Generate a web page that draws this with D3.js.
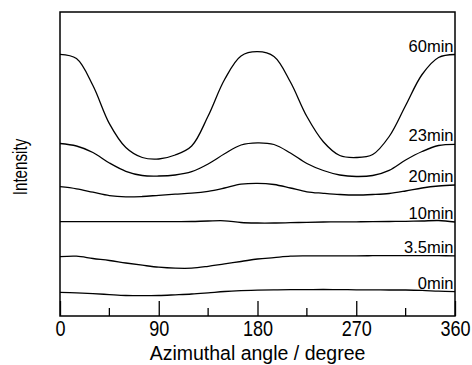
<!DOCTYPE html>
<html>
<head>
<meta charset="utf-8">
<script src="https://cdn.jsdelivr.net/npm/d3@7"></script>
<style>
    body { margin: 0; background: white; }
    svg { display: block; }
</style>
</head>
<body>
<svg id="chart"></svg>
<script>
// azimuthal angle samples (degree)
const angles = [0, 15, 30, 45, 60, 75, 90, 105, 120, 135, 150, 165, 180,
    195, 210, 225, 240, 255, 270, 285, 300, 315, 330, 345, 360];

// intensity profiles, offset per time (arbitrary units)
const int60 = [261.7, 257.5, 230.5, 192.4, 168.5, 158.5, 157, 161, 170, 200, 236.5, 260, 264.3,
    259.5, 234, 199.5, 174.3, 160.5, 158.5, 161.5, 179.5, 210.5, 241.5, 258.5, 261.5];
const int23 = [172.5, 170, 163.5, 153, 144.7, 140.5, 140, 141, 144.3, 152, 162.2, 171, 173.2,
    171.5, 163, 152.5, 145.5, 141, 139.5, 140.5, 145.7, 156, 164.5, 170.5, 171.7];
const int20 = [129.3, 127.2, 123.8, 120.4, 119.1, 119.5, 120.7, 121.8, 122.8, 124.7, 128, 131.8, 132.7,
    131.5, 128, 124.2, 122.7, 121.5, 121, 121.5, 122.5, 125, 128, 130, 131];
const int10 = [94.3, 94.3, 94.3, 94.3, 94.3, 94.3, 94.3, 94.4, 94.5, 95, 95.2, 93.5, 93,
    93, 93.3, 93.7, 94, 94.1, 94.2, 94.3, 94.5, 94.7, 95, 95.5, 94];
const int35 = [59.3, 59.8, 57.5, 55.5, 53, 50.8, 48.8, 47.8, 47.8, 49.7, 52.2, 54.5, 57,
    58.4, 59.8, 60.1, 60.2, 60.2, 60.2, 60.3, 60.4, 60.4, 60.4, 60.3, 60.2];
const int0 = [23.7, 23.1, 22.4, 21.4, 20.5, 20.3, 20.5, 21.2, 22, 23.2, 24.5, 25.3, 25.8,
    26.1, 26.3, 26.4, 26.5, 26.4, 26.2, 26.1, 26, 26, 25.6, 24.8, 24.3];

const seriesNames = ["60min", "23min", "20min", "10min", "3.5min", "0min"];
const seriesValues = [int60, int23, int20, int10, int35, int0];

const xTicks = [0, 90, 180, 270, 360];
const xMinorTicks = [45, 135, 225, 315];

const width = 472;
const height = 365;
const margin = { top: 12, right: 17, bottom: 49, left: 60 };

const svg = d3.select("#chart")
    .attr("width", width)
    .attr("height", height)
    .style("font-family", "'Liberation Sans', Arial, sans-serif");

const xScale = d3.scaleLinear()
    .domain([0, 360])
    .range([margin.left, width - margin.right]);

const yScale = d3.scaleLinear()
    .domain([0, 304])
    .range([height - margin.bottom, margin.top]);

// frame
svg.append("rect")
    .attr("x", xScale(0))
    .attr("y", yScale(304))
    .attr("width", xScale(360) - xScale(0))
    .attr("height", yScale(0) - yScale(304))
    .attr("fill", "none")
    .attr("stroke", "black")
    .attr("stroke-width", 1.5);

// bottom axis, ticks pointing inward
const xAxis = svg.append("g")
    .attr("class", "x-axis")
    .attr("transform", `translate(0, ${yScale(0)})`)
    .call(d3.axisBottom(xScale).tickValues(xTicks).tickSizeInner(-15).tickSizeOuter(0).tickPadding(20));

xAxis.select(".domain").remove();
xAxis.selectAll("line").attr("stroke-width", 1.3);
xAxis.selectAll("text")
    .attr("y", 19.5)
    .attr("dy", 0)
    .attr("transform", "scale(0.82, 1)") // narrow look of the original
    .style("font-size", "22px")
    .style("fill", "black");

svg.append("g")
    .attr("class", "minor-ticks")
    .selectAll("line")
    .data(xMinorTicks)
    .enter().append("line")
    .attr("x1", d => xScale(d))
    .attr("x2", d => xScale(d))
    .attr("y1", yScale(0))
    .attr("y2", yScale(0) - 8)
    .attr("stroke", "black")
    .attr("stroke-width", 1.3);

// curves
const line = d3.line()
    .x((d, i) => xScale(angles[i]))
    .y(d => yScale(d))
    .curve(d3.curveCatmullRom);

svg.append("g")
    .selectAll("path")
    .data(seriesValues)
    .enter().append("path")
    .attr("d", d => line(d))
    .attr("fill", "none")
    .attr("stroke", "black")
    .attr("stroke-width", 1.3);

// labels at right end of each curve
svg.append("g")
    .selectAll("text")
    .data(seriesNames)
    .enter().append("text")
    .attr("x", xScale(360) - 1.5)
    .attr("y", (d, i) => yScale(seriesValues[i][seriesValues[i].length - 1]) - 3)
    .attr("text-anchor", "end")
    .style("font-size", "16.5px")
    .text(d => d);

// axis titles
svg.append("text")
    .attr("x", (xScale(0) + xScale(360)) / 2)
    .attr("y", 360)
    .attr("text-anchor", "middle")
    .style("font-size", "19.5px")
    .text("Azimuthal angle / degree");

svg.append("text")
    .attr("transform", "translate(27, 167) rotate(-90) scale(0.78, 1)")
    .attr("text-anchor", "middle")
    .style("font-size", "19.5px")
    .text("Intensity");
</script>
</body>
</html>
